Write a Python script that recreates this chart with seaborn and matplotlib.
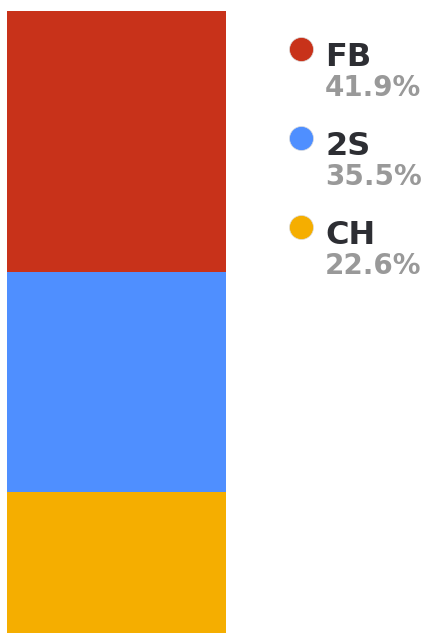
import matplotlib
matplotlib.use("Agg")
import matplotlib.pyplot as plt
import seaborn as sns
import pandas as pd
import numpy as np

# Share of each segment (top to bottom in the stacked bar)
segments = ["FB", "2S", "CH"]
shares = [41.9, 35.5, 22.6]
colors = ["#C8321A", "#4F8FFF", "#F5AE00"]

sns.set_style("white")
plt.rcParams["font.family"] = ["DejaVu Sans"]

W, H = 426, 633
fig = plt.figure(figsize=(W / 100, H / 100), dpi=100)

# Stacked bar: overlay cumulative bars, tallest first
ax = fig.add_axes([7 / W, 0, 219 / W, 622 / H])
cum = np.cumsum(shares[::-1])[::-1]
for seg, top, col in zip(segments, cum, colors):
    df = pd.DataFrame({"x": ["all"], "y": [top]})
    sns.barplot(data=df, x="x", y="y", color=col, width=1.0,
                saturation=1, linewidth=0, ax=ax)
ax.set_xlim(-0.5, 0.5)
ax.set_ylim(0, sum(shares))
ax.axis("off")

# Legend drawn in pixel coordinates
lg = fig.add_axes([0, 0, 1, 1])
lg.set_xlim(0, W)
lg.set_ylim(H, 0)
lg.axis("off")
for i, (seg, val, col) in enumerate(zip(segments, shares, colors)):
    y0 = 49 + i * 89
    lg.scatter([301], [y0], s=(24 * 0.72) ** 2, color=col, edgecolor="#dddddd",
               linewidth=0.5)
    lg.text(325, y0 + 17, seg, fontsize=23, fontweight="bold", color="#2d2e33",
            ha="left", va="baseline")
    lg.text(325, y0 + 47, f"{val}%", fontsize=20, fontweight="bold",
            color="#999999", ha="left", va="baseline")

fig.savefig("out.png", dpi=100)
